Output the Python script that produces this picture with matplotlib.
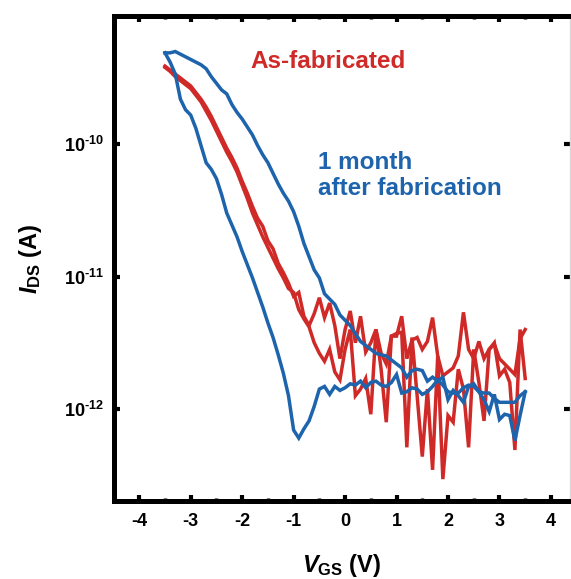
import numpy as np
import matplotlib
matplotlib.use("Agg")
import matplotlib.pyplot as plt
from matplotlib.ticker import MultipleLocator, LogLocator, NullFormatter, FixedLocator

plt.rcParams['font.family'] = ['Liberation Sans', 'DejaVu Sans']
plt.rcParams['font.weight'] = 'bold'
plt.rcParams['axes.unicode_minus'] = False
plt.rcParams['mathtext.fontset'] = 'custom'
plt.rcParams['mathtext.rm'] = 'Liberation Sans:bold'
plt.rcParams['mathtext.bf'] = 'Liberation Sans:bold'
plt.rcParams['mathtext.it'] = 'Liberation Sans:bold:italic'

# Gate voltage grid (V)
VGS = [-3.5, -3.4, -3.3, -3.2, -3.1, -3.0, -2.9, -2.8, -2.7, -2.6, -2.5, -2.4, -2.3, -2.2, -2.1,
       -2.0, -1.9, -1.8, -1.7, -1.6, -1.5, -1.4, -1.3, -1.2, -1.1, -1.0, -0.9, -0.8, -0.7, -0.6,
       -0.5, -0.4, -0.3, -0.2, -0.1, 0.0, 0.1, 0.2, 0.3, 0.4, 0.5, 0.6, 0.7, 0.8, 0.9,
       1.0, 1.1, 1.2, 1.3, 1.4, 1.5, 1.6, 1.7, 1.8, 1.9, 2.0, 2.1, 2.2, 2.3, 2.4,
       2.5, 2.6, 2.7, 2.8, 2.9, 3.0, 3.1, 3.2, 3.3, 3.4, 3.5]

# log10(I_DS / A), as-fabricated, sweep 1
asfab_1 = [-9.41, -9.44, -9.47, -9.50, -9.53, -9.56, -9.61, -9.66, -9.72, -9.79, -9.87, -9.95, -10.03,
           -10.10, -10.18, -10.28, -10.37, -10.47, -10.56, -10.62, -10.73, -10.79, -10.90, -10.97,
           -11.05, -11.15, -11.12, -11.30, -11.37, -11.28, -11.16, -11.31, -11.20, -11.37, -11.62,
           -11.40, -11.26, -11.50, -11.30, -11.57, -11.50, -11.40, -11.58, -11.66, -11.45, -11.45,
           -11.30, -11.62, -11.48, -11.46, -11.55, -11.49, -11.31, -11.60, -11.75, -11.72, -11.69,
           -11.60, -11.27, -11.55, -11.62, -11.49, -11.62, -11.55, -11.51, -11.62, -11.66, -11.70,
           -11.74, -11.47, -11.40]
# log10(I_DS / A), as-fabricated, sweep 2
asfab_2 = [-9.42, -9.45, -9.49, -9.52, -9.55, -9.58, -9.63, -9.68, -9.75, -9.82, -9.90, -9.98, -10.06,
           -10.13, -10.21, -10.31, -10.41, -10.52, -10.61, -10.70, -10.78, -10.86, -10.94, -11.01,
           -11.09, -11.12, -11.25, -11.32, -11.38, -11.50, -11.58, -11.64, -11.55, -11.72, -11.78,
           -11.55, -11.40, -11.90, -11.85, -11.77, -12.04, -11.40, -11.70, -12.10, -11.45, -11.43,
           -11.42, -12.29, -11.46, -11.90, -12.36, -11.85, -12.46, -11.60, -12.53, -12.05, -12.10,
           -11.70, -11.85, -12.29, -11.55, -11.80, -12.09, -11.55, -11.50, -11.75, -11.70, -11.80,
           -12.31, -11.40, -11.77]
# log10(I_DS / A), 1 month after fabrication, sweep 1
month_1 = [-9.31, -9.38, -9.47, -9.66, -9.74, -9.78, -9.88, -10.01, -10.14, -10.19, -10.26, -10.38,
           -10.52, -10.61, -10.70, -10.81, -10.91, -11.01, -11.12, -11.23, -11.35, -11.46, -11.59,
           -11.73, -11.90, -12.16, -12.22, -12.15, -12.09, -11.98, -11.85, -11.83, -11.89, -11.83,
           -11.86, -11.84, -11.81, -11.82, -11.79, -11.84, -11.80, -11.79, -11.82, -11.83, -11.80,
           -11.74, -11.88, -11.87, -11.84, -11.85, -11.89, -11.87, -11.83, -11.78, -11.82, -11.87,
           -11.88, -11.88, -11.84, -11.82, -11.83, -11.87, -11.93, -12.02, -11.89, -12.08, -12.04,
           -12.05, -12.24, -12.05, -11.87]
# log10(I_DS / A), 1 month after fabrication, sweep 2
month_2 = [-9.31, -9.31, -9.30, -9.32, -9.34, -9.36, -9.38, -9.40, -9.43, -9.49, -9.54, -9.59, -9.62,
           -9.70, -9.76, -9.81, -9.87, -9.93, -10.01, -10.08, -10.14, -10.22, -10.30, -10.37, -10.43,
           -10.51, -10.62, -10.75, -10.85, -10.95, -11.01, -11.13, -11.17, -11.21, -11.29, -11.33,
           -11.37, -11.43, -11.49, -11.52, -11.55, -11.58, -11.59, -11.60, -11.63, -11.66, -11.69,
           -11.76, -11.71, -11.70, -11.71, -11.79, -11.76, -11.79, -11.76, -11.93, -11.86, -11.90,
           -11.95, -11.83, -11.81, -11.87, -11.88, -11.88, -11.92, -11.95, -11.95, -11.95, -11.95,
           -11.90, -11.87]

x_ticks = [-4, -3, -2, -1, 0, 1, 2, 3, 4]
y_ticks = [1e-12, 1e-11, 1e-10]
y_ticklabels = [r'$10^{\text{-12}}$', r'$10^{\text{-11}}$', r'$10^{\text{-10}}$']

RED = '#cf2a27'
BLUE = '#1d64ad'

fig = plt.figure(figsize=(5.71, 5.79), dpi=100)
ax = fig.add_axes([0.1988, 0.1339, 0.7994, 0.8385])

V = np.array(VGS)
for s in (asfab_1, asfab_2):
    ax.plot(V, 10.0 ** np.array(s), color=RED, lw=2.5, solid_joinstyle='miter')
for s in (month_1, month_2):
    ax.plot(V, 10.0 ** np.array(s), color=BLUE, lw=2.5, solid_joinstyle='miter')

ax.set_yscale('log')
ax.set_xlim(-4.5, 4.37)
ax.set_ylim(2.0e-13, 9.3e-10)

ax.xaxis.set_major_locator(FixedLocator(x_ticks))
ax.xaxis.set_minor_locator(MultipleLocator(0.5))
ax.yaxis.set_major_locator(FixedLocator(y_ticks))
ax.set_yticklabels(y_ticklabels)
ax.yaxis.set_minor_locator(LogLocator(base=10, subs=np.arange(2, 10)))
ax.yaxis.set_minor_formatter(NullFormatter())

for sp in ('left', 'top', 'bottom'):
    ax.spines[sp].set_linewidth(3.6)
ax.spines['right'].set_linewidth(1.0)
ax.spines['right'].set_color('#d8d8d8')

ax.tick_params(which='major', direction='in', length=4, width=3, top=True, right=True,
               color='black')
ax.tick_params(which='minor', direction='in', length=2, width=2.5, top=True, right=False,
               color='black')
ax.tick_params(axis='y', which='minor', length=1.2, width=0.8, color='#888888')
ax.tick_params(axis='x', which='major', labelsize=13, pad=8)
ax.tick_params(axis='y', which='major', labelsize=13, pad=7)

ax.set_xlabel(r'$V_{\mathrm{GS}}$ (V)', fontsize=17, fontweight='bold', labelpad=16)
ax.set_ylabel(r'$I_{\mathrm{DS}}$ (A)', fontsize=17, fontweight='bold', labelpad=14)

ax.text(0.299, 0.907, 'As-fabricated', transform=ax.transAxes, color=RED,
        fontsize=17.5, fontweight='bold', ha='left', va='center')
ax.text(0.448, 0.671, '1 month\nafter fabrication', transform=ax.transAxes, color=BLUE,
        fontsize=17.5, fontweight='bold', ha='left', va='center', linespacing=1.15)

fig.savefig('out.png', dpi=100)
